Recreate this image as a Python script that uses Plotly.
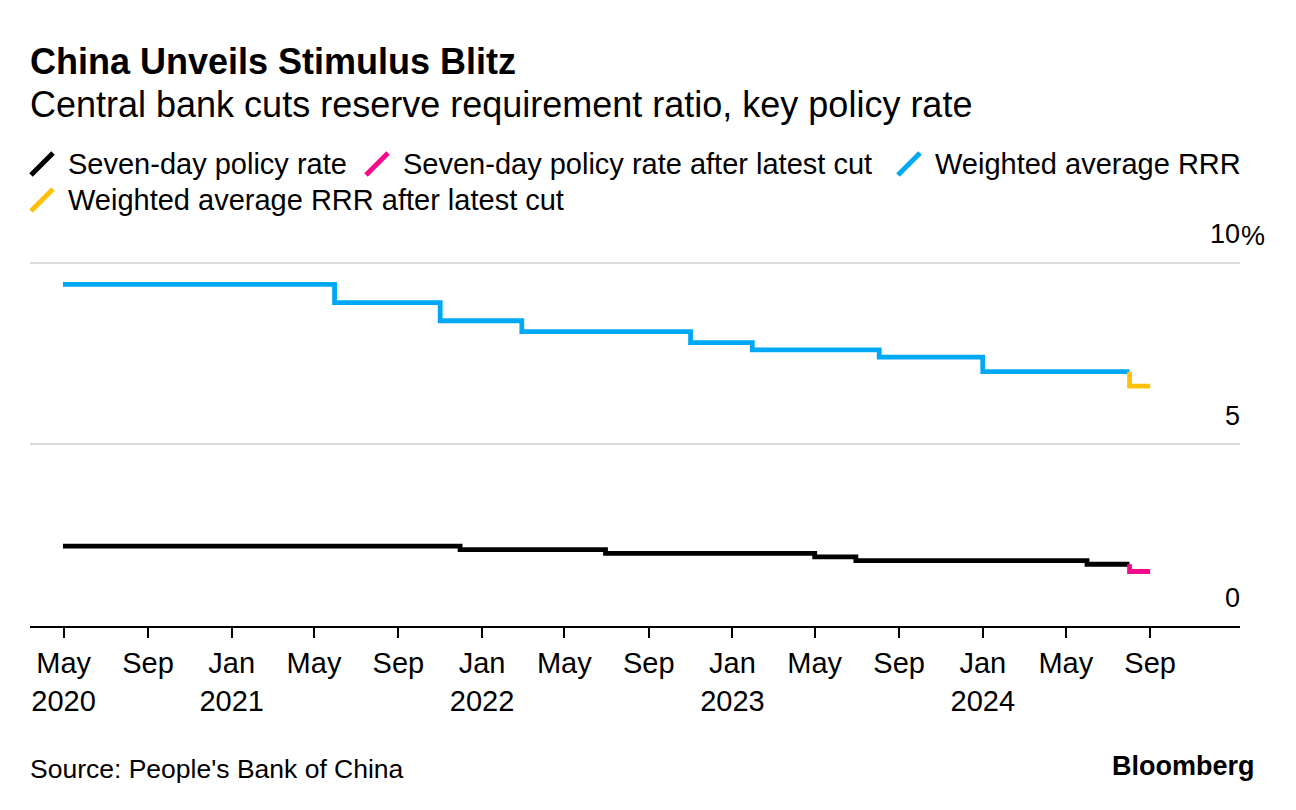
import plotly.graph_objects as go

# ---- data ----
policy_dates = ["2020-04-30", "2021-11-30", "2022-06-30", "2023-05-01", "2023-06-30", "2024-06-01", "2024-08-02"]
policy_values = [2.2, 2.1, 2.0, 1.9, 1.8, 1.7, 1.7]

policy_cut_dates = ["2024-08-02", "2024-09-01"]
policy_cut_values = [1.7, 1.5]

rrr_dates = ["2020-04-30", "2021-05-31", "2021-11-01", "2022-02-28", "2022-11-01", "2023-01-30", "2023-08-03", "2024-01-01", "2024-08-02"]
rrr_values = [9.4, 8.9, 8.4, 8.1, 7.8, 7.6, 7.4, 7.0, 7.0]

rrr_cut_dates = ["2024-08-02", "2024-09-01"]
rrr_cut_values = [7.0, 6.6]

series_names = ["Seven-day policy rate", "Seven-day policy rate after latest cut",
                "Weighted average RRR", "Weighted average RRR after latest cut"]
series_colors = ["#000000", "#F7098C", "#00A9F5", "#FFC107"]

x_tick_vals = ["2020-05-01", "2020-09-01", "2021-01-01", "2021-05-01", "2021-09-01", "2022-01-01",
               "2022-05-01", "2022-09-01", "2023-01-01", "2023-05-01", "2023-09-01", "2024-01-01",
               "2024-05-01", "2024-09-01"]
x_tick_text = ["May<br>2020", "Sep", "Jan<br>2021", "May", "Sep", "Jan<br>2022", "May", "Sep",
               "Jan<br>2023", "May", "Sep", "Jan<br>2024", "May", "Sep"]
y_tick_vals = [0, 5, 10]
y_tick_text = ["0", "5", "10"]

title = "China Unveils Stimulus Blitz"
subtitle = "Central bank cuts reserve requirement ratio, key policy rate"
source = "Source: People's Bank of China"

FONT = "Liberation Sans"

# ---- layout geometry (pixels) ----
WIDTH, HEIGHT = 1296, 810
L, R, T, B = 30, 56, 259, 184
PW = WIDTH - L - R
PH = HEIGHT - T - B


def fx(px):
    return (px - L) / PW


def fy(py):
    return (HEIGHT - B - py) / PH


fig = go.Figure()

fig.add_trace(go.Scatter(x=rrr_dates, y=rrr_values, mode="lines", name=series_names[2],
                         line=dict(color=series_colors[2], width=4.8, shape="hv")))
fig.add_trace(go.Scatter(x=rrr_cut_dates, y=rrr_cut_values, mode="lines", name=series_names[3],
                         line=dict(color=series_colors[3], width=4.8, shape="vh")))
fig.add_trace(go.Scatter(x=policy_dates, y=policy_values, mode="lines", name=series_names[0],
                         line=dict(color=series_colors[0], width=4.8, shape="hv")))
fig.add_trace(go.Scatter(x=policy_cut_dates, y=policy_cut_values, mode="lines", name=series_names[1],
                         line=dict(color=series_colors[1], width=4.8, shape="vh")))

annotations = [
    dict(text="<b>" + title + "</b>", x=fx(28), y=fy(62), font=dict(size=36, color="#000")),
    dict(text=subtitle, x=fx(28), y=fy(104), font=dict(size=36, color="#000")),
    dict(text=source, x=fx(28), y=fy(769), font=dict(size=26.5, color="#000")),
]
for a in annotations:
    a.update(xref="paper", yref="paper", xanchor="left", yanchor="middle", showarrow=False)

annotations.append(dict(text="<b>Bloomberg</b>", x=fx(1257), y=fy(766), xref="paper", yref="paper",
                        xanchor="right", yanchor="middle", showarrow=False, font=dict(size=27, color="#000")))
annotations.append(dict(text="%", x=fx(1239), y=fy(236), xref="paper", yref="paper",
                        xanchor="left", yanchor="middle", showarrow=False, font=dict(size=27, color="#000")))

# custom legend with slanted line icons
legend_pos = [(31, 164), (366, 164), (898, 164), (31, 200)]
shapes = []
order = [0, 1, 2, 3]
for i, (lx, ly) in zip(order, legend_pos):
    shapes.append(dict(type="line", xref="paper", yref="paper",
                       x0=fx(lx), y0=fy(ly + 11), x1=fx(lx + 22), y1=fy(ly - 11),
                       line=dict(color=series_colors[i], width=5)))
    annotations.append(dict(text=series_names[i], x=fx(lx + 35), y=fy(ly), xref="paper", yref="paper",
                            xanchor="left", yanchor="middle", showarrow=False,
                            font=dict(size=29, color="#000")))

fig.update_layout(
    width=WIDTH, height=HEIGHT,
    margin=dict(l=L, r=R, t=T, b=B, pad=0),
    paper_bgcolor="white", plot_bgcolor="white",
    font=dict(family=FONT, color="#000"),
    showlegend=False,
    annotations=annotations,
    shapes=shapes,
    xaxis=dict(
        type="date", range=["2020-03-13", "2025-01-10"],
        tickvals=x_tick_vals, ticktext=x_tick_text,
        showgrid=False, zeroline=False,
        showline=True, linecolor="#000", linewidth=2,
        ticks="outside", ticklen=10, tickwidth=1.5, tickcolor="#000",
        tickfont=dict(size=29, color="#000"),
    ),
    yaxis=dict(
        range=[0, 10.1], side="right",
        tickvals=y_tick_vals, ticktext=y_tick_text,
        ticklabelposition="inside top", ticklabeloverflow="allow",
        ticklabelshift=-10, ticklabelstandoff=-3,
        showgrid=True, gridcolor="#DCDCDC", gridwidth=2,
        zeroline=False, showline=False, ticks="",
        tickfont=dict(size=27, color="#000"),
    ),
)

fig.write_html("out.html", config={"displayModeBar": False},
               post_script="document.body.style.margin='0px';")
